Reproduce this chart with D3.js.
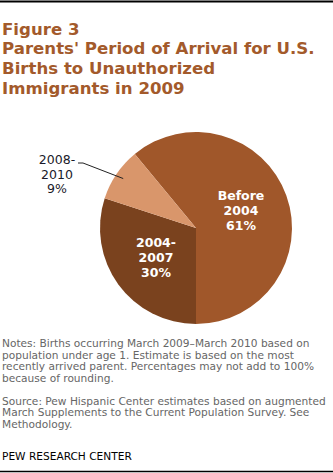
<!DOCTYPE html>
<html>
<head>
<meta charset="utf-8">
<script src="https://cdn.jsdelivr.net/npm/d3@7"></script>
<style>
  body { margin: 0; background: #fff; }
  svg { display: block; }
</style>
</head>
<body>
<svg id="chart" width="333" height="473"></svg>
<script>
// 数据
const categories = ['Before 2004', '2004-2007', '2008-2010'];
const shares = [61, 30, 9];
const labelLines = [['Before', '2004', '61%'], ['2004-', '2007', '30%'], ['2008-', '2010', '9%']];
const colors = ['#a0572a', '#7a421e', '#d9966b'];

const titleLines = ['Figure 3', "Parents' Period of Arrival for U.S.", 'Births to Unauthorized', 'Immigrants in 2009'];
const noteLines = [
  'Notes: Births occurring March 2009\u2013March 2010 based on',
  'population under age 1. Estimate is based on the most',
  'recently arrived parent. Percentages may not add to 100%',
  'because of rounding.'
];
const sourceLines = [
  'Source: Pew Hispanic Center estimates based on augmented',
  'March Supplements to the Current Population Survey. See',
  'Methodology.'
];

const svg = d3.select('#chart');
const width = +svg.attr('width');
const height = +svg.attr('height');
const font = 'Verdana, "DejaVu Sans", sans-serif';

// 上下边框线
svg.append('line').attr('x1', 0).attr('x2', width).attr('y1', 1.5).attr('y2', 1.5)
  .attr('stroke', '#000').attr('stroke-width', 2);
svg.append('line').attr('x1', 0).attr('x2', width).attr('y1', 471.5).attr('y2', 471.5)
  .attr('stroke', '#000').attr('stroke-width', 1.5);

// 标题
svg.append('g').selectAll('text').data(titleLines).join('text')
  .attr('x', 2)
  .attr('y', (d, i) => 34.5 + i * 19.8)
  .attr('font-family', font)
  .attr('font-weight', 'bold')
  .attr('font-size', 16.6)
  .attr('fill', '#a35a2b')
  .text(d => d);

// 饼图
const cx = 196, cy = 228, radius = 96;
const start = Math.PI - shares[0] / 100 * 2 * Math.PI;
const pie = d3.pie().sort(null).startAngle(start).endAngle(start + 2 * Math.PI);
const arcs = pie(shares);
const arc = d3.arc().innerRadius(0).outerRadius(radius);

const pieG = svg.append('g').attr('transform', `translate(${cx},${cy})`);
pieG.selectAll('path').data(arcs).join('path')
  .attr('d', arc)
  .attr('fill', (d, i) => colors[i]);

// 扇区内标签
const inner = [[45, -28], [-40, 19]];
inner.forEach((pos, i) => {
  pieG.append('g').selectAll('text').data(labelLines[i]).join('text')
    .attr('x', pos[0])
    .attr('y', (d, j) => pos[1] + j * 15)
    .attr('text-anchor', 'middle')
    .attr('font-family', font)
    .attr('font-weight', 'bold')
    .attr('font-size', 12.5)
    .attr('fill', '#fff')
    .text(d => d);
});

// 外部标签与引线
const small = arcs[2];
const midA = (small.startAngle + small.endAngle) / 2;
const edge = [Math.sin(midA) * (radius - 8), -Math.cos(midA) * (radius - 8)];
pieG.append('polyline')
  .attr('points', [[-118, -65], [-113, -65], edge].map(p => p.join(',')).join(' '))
  .attr('fill', 'none')
  .attr('stroke', '#222')
  .attr('stroke-width', 1);
pieG.append('g').selectAll('text').data(labelLines[2]).join('text')
  .attr('x', -139)
  .attr('y', (d, j) => -64 + j * 14.5)
  .attr('text-anchor', 'middle')
  .attr('font-family', font)
  .attr('font-size', 12.5)
  .attr('fill', '#1a1a2a')
  .text(d => d);

// 注释
svg.append('g').selectAll('text').data(noteLines).join('text')
  .attr('x', 2)
  .attr('y', (d, i) => 347 + i * 11.5)
  .attr('font-family', font)
  .attr('font-size', 10.6)
  .attr('fill', '#666')
  .text(d => d);
svg.append('g').selectAll('text').data(sourceLines).join('text')
  .attr('x', 2)
  .attr('y', (d, i) => 404.5 + i * 11.5)
  .attr('font-family', font)
  .attr('font-size', 10.6)
  .attr('fill', '#666')
  .text(d => d);
svg.append('text')
  .attr('x', 2).attr('y', 460)
  .attr('font-family', font)
  .attr('font-size', 10.6)
  .attr('fill', '#000')
  .text('PEW RESEARCH CENTER');
</script>
</body>
</html>
